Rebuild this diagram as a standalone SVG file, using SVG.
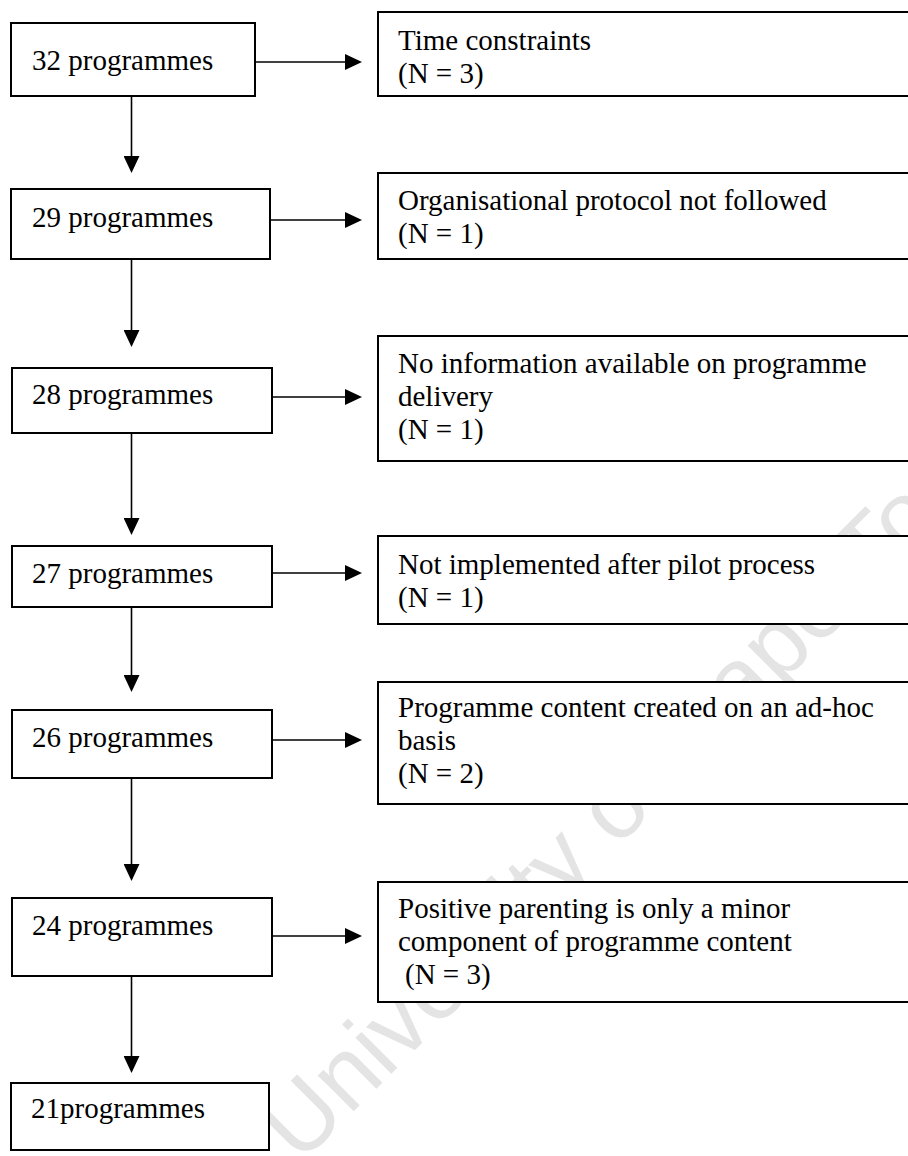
<svg xmlns="http://www.w3.org/2000/svg" width="908" height="1156" viewBox="0 0 908 1156">
<style>
  .box { fill: #ffffff; stroke: #000000; stroke-width: 2; }
  .lbl { font-family: "Liberation Serif", "Times New Roman", serif; font-size: 29px; fill: #000000; }
  .conn { stroke: #000000; stroke-width: 1.6; fill: none; marker-end: url(#ah); }
  .wm { font-family: "Liberation Sans", Arial, sans-serif; font-size: 96px; fill: #e4e4e4; }
</style>
<defs>
  <marker id="ah" markerUnits="userSpaceOnUse" viewBox="0 0 17 16" markerWidth="17" markerHeight="16" refX="7" refY="8" orient="auto">
    <path d="M0,0 L17,8 L0,16 Z" fill="#000000"/>
  </marker>
</defs>
<rect x="0" y="0" width="908" height="1156" fill="#ffffff"/>
<g id="watermark">
  <text class="wm" x="300" y="1165" transform="rotate(-45 300 1165)">University of Cape Town</text>
</g>
<g id="connectors">
  <line class="conn" x1="131.5" y1="96" x2="131.5" y2="163"/>
  <line class="conn" x1="131.5" y1="259" x2="131.5" y2="337"/>
  <line class="conn" x1="131.5" y1="433" x2="131.5" y2="525"/>
  <line class="conn" x1="131.5" y1="607" x2="131.5" y2="682"/>
  <line class="conn" x1="131.5" y1="778" x2="131.5" y2="871"/>
  <line class="conn" x1="131.5" y1="976" x2="131.5" y2="1063"/>
  <line class="conn" x1="255" y1="62" x2="352" y2="62"/>
  <line class="conn" x1="270" y1="220" x2="352" y2="220"/>
  <line class="conn" x1="272" y1="397" x2="352" y2="397"/>
  <line class="conn" x1="268" y1="573" x2="352" y2="573"/>
  <line class="conn" x1="272" y1="740" x2="352" y2="740"/>
  <line class="conn" x1="272" y1="936" x2="352" y2="936"/>
</g>
<g id="n32">
  <rect class="box" x="11" y="23" width="244" height="73"/>
  <text class="lbl" x="32" y="70">32 programmes</text>
</g>
<g id="n29">
  <rect class="box" x="11" y="189" width="259" height="70"/>
  <text class="lbl" x="32" y="227">29 programmes</text>
</g>
<g id="n28">
  <rect class="box" x="12" y="368" width="260" height="65"/>
  <text class="lbl" x="32" y="404">28 programmes</text>
</g>
<g id="n27">
  <rect class="box" x="12" y="546" width="260" height="61"/>
  <text class="lbl" x="32" y="583">27 programmes</text>
</g>
<g id="n26">
  <rect class="box" x="12" y="710" width="260" height="68"/>
  <text class="lbl" x="32" y="747">26 programmes</text>
</g>
<g id="n24">
  <rect class="box" x="12" y="898" width="260" height="78"/>
  <text class="lbl" x="32" y="935">24 programmes</text>
</g>
<g id="n21">
  <rect class="box" x="11" y="1083" width="258" height="67"/>
  <text class="lbl" x="31" y="1118">21programmes</text>
</g>
<g id="ex1">
  <rect class="box" x="378" y="12" width="545" height="84"/>
  <text class="lbl" x="398" y="50">Time constraints</text>
  <text class="lbl" x="398" y="83">(N = 3)</text>
</g>
<g id="ex2">
  <rect class="box" x="378" y="173" width="545" height="86"/>
  <text class="lbl" x="398" y="210">Organisational protocol not followed</text>
  <text class="lbl" x="398" y="243">(N = 1)</text>
</g>
<g id="ex3">
  <rect class="box" x="378" y="336" width="545" height="125"/>
  <text class="lbl" x="398" y="373">No information available on programme</text>
  <text class="lbl" x="398" y="406">delivery</text>
  <text class="lbl" x="398" y="439">(N = 1)</text>
</g>
<g id="ex4">
  <rect class="box" x="378" y="536" width="545" height="88"/>
  <text class="lbl" x="398" y="574">Not implemented after pilot process</text>
  <text class="lbl" x="398" y="607">(N = 1)</text>
</g>
<g id="ex5">
  <rect class="box" x="378" y="682" width="545" height="122"/>
  <text class="lbl" x="398" y="717">Programme content created on an ad-hoc</text>
  <text class="lbl" x="398" y="750">basis</text>
  <text class="lbl" x="398" y="783">(N = 2)</text>
</g>
<g id="ex6">
  <rect class="box" x="378" y="882" width="545" height="120"/>
  <text class="lbl" x="398" y="918">Positive parenting is only a minor</text>
  <text class="lbl" x="398" y="951">component of programme content</text>
  <text class="lbl" x="405" y="984">(N = 3)</text>
</g>
</svg>
